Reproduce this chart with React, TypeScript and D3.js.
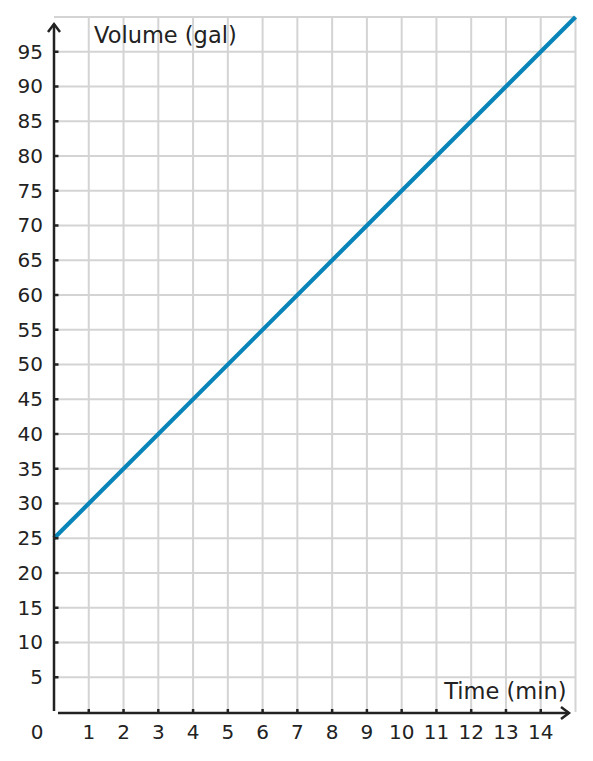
import React from "react";
import * as d3 from "d3";

const xTicks = [1, 2, 3, 4, 5, 6, 7, 8, 9, 10, 11, 12, 13, 14];
const yTicks = [5, 10, 15, 20, 25, 30, 35, 40, 45, 50, 55, 60, 65, 70, 75, 80, 85, 90, 95];
const xGrid = [1, 2, 3, 4, 5, 6, 7, 8, 9, 10, 11, 12, 13, 14, 15];
const yGrid = [5, 10, 15, 20, 25, 30, 35, 40, 45, 50, 55, 60, 65, 70, 75, 80, 85, 90, 95, 100];
const lineTime = [0, 15];
const lineVolume = [25, 100];
const xTitle = "Time (min)";
const yTitle = "Volume (gal)";

const W = 593;
const H = 761;
const FONT = "'DejaVu Sans', sans-serif";
const AXIS = "#222222";
const GRID = "#d4d4d4";
const LINE = "#0884b9";

export default function App() {
  const x = d3.scaleLinear().domain([0, 15]).range([54, 575.5]);
  const y = d3.scaleLinear().domain([0, 100]).range([712, 17]);
  const pts: [number, number][] = lineTime.map((t, i) => [t, lineVolume[i]]);
  const path = d3
    .line<[number, number]>()
    .x((d) => x(d[0]))
    .y((d) => y(d[1]))(pts);
  const x0 = x(0);
  const y0 = y(0);
  return (
    <svg
      width={W}
      height={H}
      style={{ position: "absolute", left: 0, top: 0, background: "#fff" }}
      fontFamily={FONT}
    >
      <rect x={0} y={0} width={W} height={H} fill="#fff" />
      {xGrid.map((v) => (
        <line key={"gx" + v} x1={x(v)} x2={x(v)} y1={y(0)} y2={y(100)} stroke={GRID} strokeWidth={2} />
      ))}
      {yGrid.map((v) => (
        <line key={"gy" + v} x1={x(0)} x2={x(15)} y1={y(v)} y2={y(v)} stroke={GRID} strokeWidth={2} />
      ))}
      <path d={path || ""} fill="none" stroke={LINE} strokeWidth={4.2} />
      {/* y axis */}
      <line x1={x0} x2={x0} y1={y0 - 1} y2={24} stroke={AXIS} strokeWidth={2.5} />
      <polyline
        points={`${x0 - 6},${32} ${x0},${24} ${x0 + 6},${32}`}
        fill="none"
        stroke={AXIS}
        strokeWidth={2.5}
      />
      {/* x axis */}
      <line x1={x0 + 4} x2={569} y1={y0 + 1} y2={y0 + 1} stroke={AXIS} strokeWidth={2.5} />
      <polyline
        points={`${561},${y0 + 1 - 6} ${569},${y0 + 1} ${561},${y0 + 1 + 6}`}
        fill="none"
        stroke={AXIS}
        strokeWidth={2.5}
      />
      {xTicks.map((v) => (
        <g key={"xt" + v}>
          <line x1={x(v)} x2={x(v)} y1={y0 + 1} y2={y0 - 3} stroke={AXIS} strokeWidth={2.5} />
          <text x={x(v)} y={738.5} fontSize={20} textAnchor="middle" fill={AXIS}>
            {v}
          </text>
        </g>
      ))}
      {yTicks.map((v) => (
        <g key={"yt" + v}>
          <line x1={x0} x2={x0 + 4.5} y1={y(v)} y2={y(v)} stroke={AXIS} strokeWidth={2.5} />
          <text x={43} y={y(v) + 6.8} fontSize={20} textAnchor="end" fill={AXIS}>
            {v}
          </text>
        </g>
      ))}
      <text x={37} y={738.5} fontSize={20} textAnchor="middle" fill={AXIS}>
        0
      </text>
      <text x={566.5} y={699} fontSize={22.5} textAnchor="end" fill={AXIS}>
        {xTitle}
      </text>
      <text x={94} y={42.5} fontSize={22.5} textAnchor="start" fill={AXIS}>
        {yTitle}
      </text>
    </svg>
  );
}
